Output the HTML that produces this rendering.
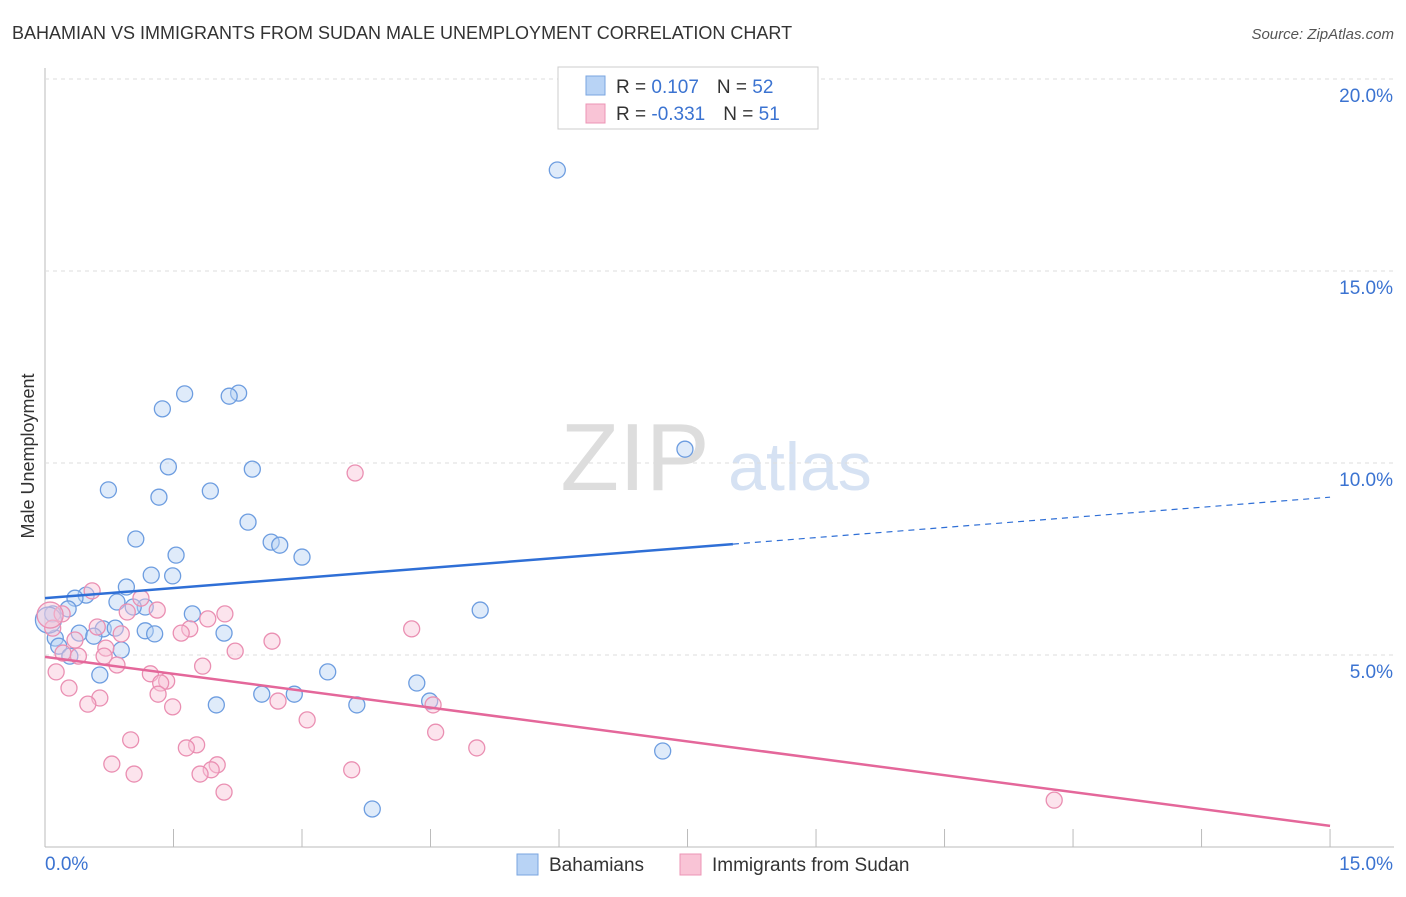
<!DOCTYPE html>
<html><head><meta charset="utf-8"><style>
body{margin:0;background:#fff;font-family:"Liberation Sans",sans-serif}
svg text{font-family:"Liberation Sans",sans-serif}
</style></head><body>
<svg id="chart" width="1406" height="892" xmlns="http://www.w3.org/2000/svg">
<text x="12" y="39" font-size="18" fill="#333">BAHAMIAN VS IMMIGRANTS FROM SUDAN MALE UNEMPLOYMENT CORRELATION CHART</text>
<text x="1394" y="39" font-size="15" fill="#555" font-style="italic" text-anchor="end">Source: ZipAtlas.com</text>
<text x="635" y="490" font-size="96" fill="#ddd" font-family="Liberation Serif" text-anchor="middle">ZIP</text>
<text x="800" y="490" font-size="68" fill="#d6e2f3" text-anchor="middle">atlas</text>
<text transform="translate(34,456) rotate(-90)" font-size="18" fill="#333" text-anchor="middle">Male Unemployment</text>
<g id="grid"></g>
<g id="marks"></g>
<g>
<rect x="558" y="67" width="260" height="62" fill="#fff" stroke="#ccc"/>
<rect x="586" y="76" width="19" height="19" fill="#b8d3f5" stroke="#7aa6e0"/>
<rect x="586" y="104" width="19" height="19" fill="#f9c4d6" stroke="#ec94b5"/>
<text x="616" y="93" font-size="19" fill="#333">R = <tspan fill="#3b73d1"> 0.107</tspan><tspan dx="18">N = </tspan><tspan fill="#3b73d1">52</tspan></text>
<text x="616" y="120" font-size="19" fill="#333">R = <tspan fill="#3b73d1">-0.331</tspan><tspan dx="18">N = </tspan><tspan fill="#3b73d1"> 51</tspan></text>
</g>
<g>
<rect x="517" y="854" width="21" height="21" fill="#b8d3f5" stroke="#7aa6e0"/>
<text x="549" y="871" font-size="19" fill="#333">Bahamians</text>
<rect x="680" y="854" width="21" height="21" fill="#f9c4d6" stroke="#ec94b5"/>
<text x="712" y="871" font-size="19" fill="#333">Immigrants from Sudan</text>
</g>
</svg>
<script>
const xTicks=[0,1.5,3,4.5,6,7.5,9,10.5,12,13.5,15];
const yTicks=[5,10,15,20];
const yTickLabels=["5.0%","10.0%","15.0%","20.0%"];
const blueX=[5.98,7.47,1.63,2.26,2.15,1.37,1.44,2.42,0.74,1.33,1.93,2.37,1.06,2.64,2.74,1.53,3.00,1.24,1.49,0.95,0.48,0.35,0.84,0.27,1.17,1.03,1.72,5.08,0.09,0.40,0.68,0.82,1.17,1.28,0.57,2.09,0.12,0.16,0.89,0.29,3.30,0.64,4.34,2.53,2.91,2.00,3.64,4.49,7.21,3.82,0.04];
const blueY=[17.63,10.36,11.80,11.82,11.74,11.41,9.90,9.84,9.30,9.11,9.27,8.46,8.02,7.94,7.86,7.60,7.55,7.08,7.06,6.77,6.56,6.48,6.38,6.20,6.25,6.25,6.07,6.17,6.07,5.57,5.68,5.70,5.63,5.55,5.49,5.57,5.44,5.23,5.13,4.97,4.56,4.48,4.27,3.98,3.98,3.70,3.70,3.80,2.50,0.99,5.91];
const pinkX=[3.62,0.55,1.12,0.20,2.10,0.96,1.31,1.90,1.69,1.59,0.61,0.89,0.09,2.65,4.28,0.35,0.71,2.22,0.21,0.39,0.69,0.84,1.84,0.13,1.23,1.42,1.35,0.28,1.32,0.64,0.50,1.49,2.72,4.53,3.06,4.56,1.00,1.77,1.65,5.04,0.78,2.01,1.94,3.58,1.04,1.81,2.09,11.78,0.06];
const pinkY=[9.74,6.67,6.48,6.07,6.07,6.12,6.17,5.94,5.68,5.57,5.73,5.55,5.70,5.36,5.68,5.39,5.18,5.10,5.05,4.97,4.97,4.74,4.71,4.56,4.51,4.32,4.27,4.14,3.98,3.88,3.72,3.65,3.80,3.70,3.31,2.99,2.79,2.66,2.58,2.58,2.16,2.14,2.01,2.01,1.90,1.90,1.43,1.22,6.04];
const blueTrend=[6.48,9.11], blueSolidEnd=8.03;
const pinkTrend=[4.95,0.55];
const X=v=>45+v*85.67, Y=v=>847-v*38.4;
const NS="http://www.w3.org/2000/svg";
function mk(parent,tag,attrs){const e=document.createElementNS(NS,tag);for(const k in attrs)e.setAttribute(k,attrs[k]);parent.appendChild(e);return e;}
const grid=document.getElementById('grid'), marks=document.getElementById('marks');
let l=mk(grid,'line',{x1:45,y1:68,x2:45,y2:847,stroke:'#bbb'});


l=mk(grid,'line',{x1:45,y1:847,x2:1394,y2:847,stroke:'#bbb'});


yTicks.forEach((t,i)=>{
 const g=mk(grid,'line',{x1:45,y1:Y(t),x2:1394,y2:Y(t),stroke:'#ddd','stroke-dasharray':'4,4'});
 
 
 const tx=mk(grid,'text',{x:1393,y:Y(t)+23,'font-size':19,fill:'#3b73d1','text-anchor':'end'});
 tx.textContent=yTickLabels[i];
 
 
});
xTicks.forEach(t=>{if(t===0)return;
 const g=mk(grid,'line',{x1:X(t),y1:829,x2:X(t),y2:847,stroke:'#bbb'});
 
 
});
let t0=mk(grid,'text',{x:45,y:870,'font-size':19,fill:'#3b73d1'});t0.textContent='0.0%';


let t1=mk(grid,'text',{x:1393,y:870,'font-size':19,fill:'#3b73d1','text-anchor':'end'});t1.textContent='15.0%';


function dot(x,y,fill,stroke,r){const c=mk(marks,'circle',{cx:X(x),cy:Y(y),r:r,fill:fill,'fill-opacity':0.45,stroke:stroke,'stroke-width':1.3});return c;}
blueX.forEach((x,i)=>{const c=dot(x,blueY[i],'#b8d3f5','#6d9de0',i===blueX.length-1?13:8);
 
 });
pinkX.forEach((x,i)=>{const c=dot(x,pinkY[i],'#f9c4d6','#ea8fb2',i===pinkX.length-1?13:8);
 
 });
const by=x=>blueTrend[0]+(blueTrend[1]-blueTrend[0])*x/15;
l=mk(marks,'line',{x1:X(0),y1:Y(by(0)),x2:X(blueSolidEnd),y2:Y(by(blueSolidEnd)),stroke:'#2f6fd6','stroke-width':2.5});


l=mk(marks,'line',{x1:X(blueSolidEnd),y1:Y(by(blueSolidEnd)),x2:X(15),y2:Y(by(15)),stroke:'#2f6fd6','stroke-width':1.2,'stroke-dasharray':'6,5'});


l=mk(marks,'line',{x1:X(0),y1:Y(pinkTrend[0]),x2:X(15),y2:Y(pinkTrend[1]),stroke:'#e4679a','stroke-width':2.5});


</script>
</body></html>
